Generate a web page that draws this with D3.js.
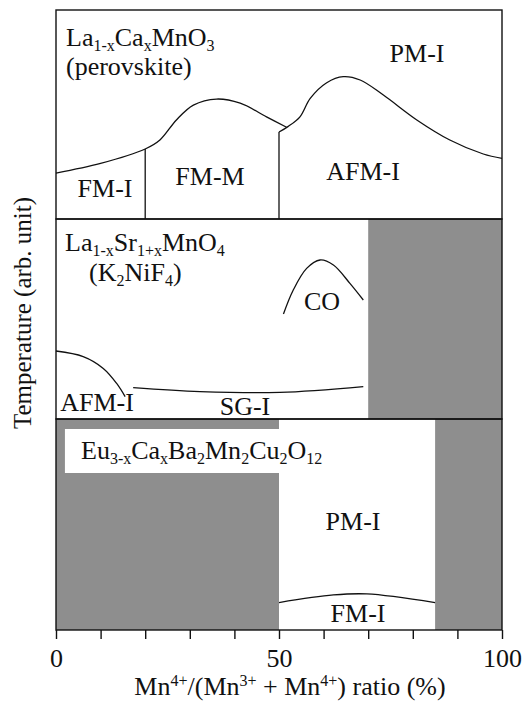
<!DOCTYPE html>
<html>
<head>
<meta charset="utf-8">
<script src="https://cdn.jsdelivr.net/npm/d3@7"></script>
<style>
  body { margin: 0; background: #fff; }
  svg { display: block; }
</style>
</head>
<body>
<div id="chart"></div>
<script>
// x axis: Mn4+ ratio (%)
const xTicks = [0, 10, 20, 30, 40, 50, 60, 70, 80, 90, 100];
const xTickLabels = ["0", "", "", "", "", "50", "", "", "", "", "100"];

// panel 1 : La1-xCaxMnO3
const lcmoFmCurve = [[0, 22], [10, 26.6], [20, 33.5], [23.3, 37.8], [27, 47.4], [30.8, 54.5],
                     [36, 57.4], [41.3, 55.4], [47.2, 48.9], [51.7, 43.9]];
const lcmoAfmCurve = [[50, 41.6], [52, 44.2], [54.7, 48.9], [57, 57.7], [60.7, 65.2], [64.4, 68.1],
                      [68.2, 66.5], [73.4, 59.3], [80.9, 47.4], [88.3, 37.8], [95.8, 31.1], [100, 29]];
const lcmoDividers = [[20, 33.5], [50, 41.6]];

// panel 2 : La1-xSr1+xMnO4
const lsmoCoCurve = [[51, 52.5], [53.2, 64.5], [56.2, 75.3], [59.2, 79.5], [62.2, 77], [65.9, 67.8], [68.9, 59.5]];
const lsmoAfmCurve = [[0, 34], [6.1, 31.2], [10.6, 25.3], [13.6, 17.8], [15.5, 11.2]];
const lsmoSgCurve = [[17.3, 15.7], [32.3, 13.7], [50.2, 13.3], [68.9, 16.2]];
const lsmoGray = [[70, 100]];

// panel 3 : Eu3-xCaxBa2Mn2Cu2O12
const ecbGray = [[0, 50], [85, 100]];
const ecbFmCurve = [[50, 13], [62.2, 16.6], [69.7, 17.1], [85, 13]];

const width = 525, height = 701;
const grey = "#8e8e8e";
const serif = "'Liberation Serif', 'DejaVu Serif', serif";

const svg = d3.select("#chart")
              .append("svg")
              .attr("width", width)
              .attr("height", height)
              .attr("font-family", serif);

const x = d3.scaleLinear().domain([0, 100]).range([56, 502]);

const panels = [
    { top: 10, bottom: 219 },
    { top: 219, bottom: 419 },
    { top: 419, bottom: 630 }
];
panels.forEach(p => {
    p.y = d3.scaleLinear().domain([0, 100]).range([p.bottom, p.top]);
});

const line = y => d3.line()
                    .x(d => x(d[0]))
                    .y(d => y(d[1]))
                    .curve(d3.curveCatmullRom.alpha(0.5));

const drawCurve = (data, y) => {
    svg.append("path")
       .datum(data)
       .attr("d", line(y))
       .attr("fill", "none")
       .attr("stroke", "#111")
       .attr("stroke-width", 1.3);
};

const drawGray = (data, p) => {
    svg.selectAll(null)
       .data(data)
       .join("rect")
       .attr("x", d => x(d[0]))
       .attr("y", p.top)
       .attr("width", d => x(d[1]) - x(d[0]))
       .attr("height", p.bottom - p.top)
       .attr("fill", grey);
};

const label = (txt, xv, yv, anchor = "middle", size = 26) => {
    svg.append("text")
       .attr("x", xv)
       .attr("y", yv)
       .attr("text-anchor", anchor)
       .attr("fill", "#111")
       .style("font-family", serif)
       .style("font-size", size + "px")
       .text(txt);
};

// formula with sub/superscripts: parts = [[text, "n"|"sub"|"sup"], ...]
const formula = (parts, xv, yv, size = 26, anchor = "start") => {
    const t = svg.append("text")
                 .attr("x", xv)
                 .attr("y", yv)
                 .attr("text-anchor", anchor)
                 .attr("fill", "#111")
                 .style("font-family", serif)
                 .style("font-size", size + "px");
    let shift = 0;
    parts.forEach(([s, kind]) => {
        const target = kind === "sub" ? Math.round(size * 0.18) : kind === "sup" ? -Math.round(size * 0.33) : 0;
        t.append("tspan")
         .attr("dy", target - shift)
         .style("font-size", kind === "n" ? size + "px" : Math.round(size * 0.6) + "px")
         .text(s);
        shift = target;
    });
};

// ---------- panel 1 ----------
const p1 = panels[0];
drawCurve(lcmoFmCurve, p1.y);
drawCurve(lcmoAfmCurve, p1.y);
svg.selectAll(null)
   .data(lcmoDividers)
   .join("line")
   .attr("x1", d => x(d[0]))
   .attr("x2", d => x(d[0]))
   .attr("y1", d => p1.y(d[1]))
   .attr("y2", p1.bottom)
   .attr("stroke", "#111")
   .attr("stroke-width", 1.3);

formula([["La", "n"], ["1-x", "sub"], ["Ca", "n"], ["x", "sub"], ["MnO", "n"], ["3", "sub"]], 66, 46);
label("(perovskite)", 66, 75, "start");
label("PM-I", 417, 62);
label("FM-I", 105, 197);
label("FM-M", 210, 185);
label("AFM-I", 363, 180);

// ---------- panel 2 ----------
const p2 = panels[1];
drawGray(lsmoGray, p2);
drawCurve(lsmoCoCurve, p2.y);
drawCurve(lsmoAfmCurve, p2.y);
drawCurve(lsmoSgCurve, p2.y);

formula([["La", "n"], ["1-x", "sub"], ["Sr", "n"], ["1+x", "sub"], ["MnO", "n"], ["4", "sub"]], 65, 251);
formula([["(K", "n"], ["2", "sub"], ["NiF", "n"], ["4", "sub"], [")", "n"]], 89, 281);
label("CO", 322, 310);
label("AFM-I", 97, 411);
label("SG-I", 245, 415);

// ---------- panel 3 ----------
const p3 = panels[2];
drawGray(ecbGray, p3);
svg.append("rect")
   .attr("x", x(2))
   .attr("y", 429)
   .attr("width", x(50) - x(2))
   .attr("height", 44)
   .attr("fill", "#fff");
drawCurve(ecbFmCurve, p3.y);

formula([["Eu", "n"], ["3-x", "sub"], ["Ca", "n"], ["x", "sub"], ["Ba", "n"], ["2", "sub"], ["Mn", "n"], ["2", "sub"],
         ["Cu", "n"], ["2", "sub"], ["O", "n"], ["12", "sub"]], 81, 459);
label("PM-I", 353, 530);
label("FM-I", 358, 622);

// panel frames
svg.selectAll(null)
   .data(panels)
   .join("rect")
   .attr("x", x(0))
   .attr("y", d => d.top)
   .attr("width", x(100) - x(0))
   .attr("height", d => d.bottom - d.top)
   .attr("fill", "none")
   .attr("stroke", "#111")
   .attr("stroke-width", 1.4);

// x axis
const xAxis = d3.axisBottom(x)
                .tickValues(xTicks)
                .tickSize(9)
                .tickPadding(10)
                .tickFormat((d, i) => xTickLabels[i]);

const gx = svg.append("g")
              .attr("transform", `translate(0, ${p3.bottom})`)
              .call(xAxis);
gx.select(".domain").remove();
gx.selectAll(".tick line").attr("stroke", "#111").attr("stroke-width", 1.4);
gx.selectAll(".tick text")
  .style("font-family", serif)
  .style("font-size", "26px")
  .attr("fill", "#111");

// axis titles
formula([["Mn", "n"], ["4+", "sup"], ["/(Mn", "n"], ["3+", "sup"], [" + Mn", "n"], ["4+", "sup"], [") ratio (%)", "n"]],
        290, 695, 26, "middle");

svg.append("text")
   .attr("transform", "translate(31, 313) rotate(-90)")
   .attr("text-anchor", "middle")
   .attr("fill", "#111")
   .style("font-family", serif)
   .style("font-size", "25px")
   .text("Temperature (arb. unit)");
</script>
</body>
</html>
